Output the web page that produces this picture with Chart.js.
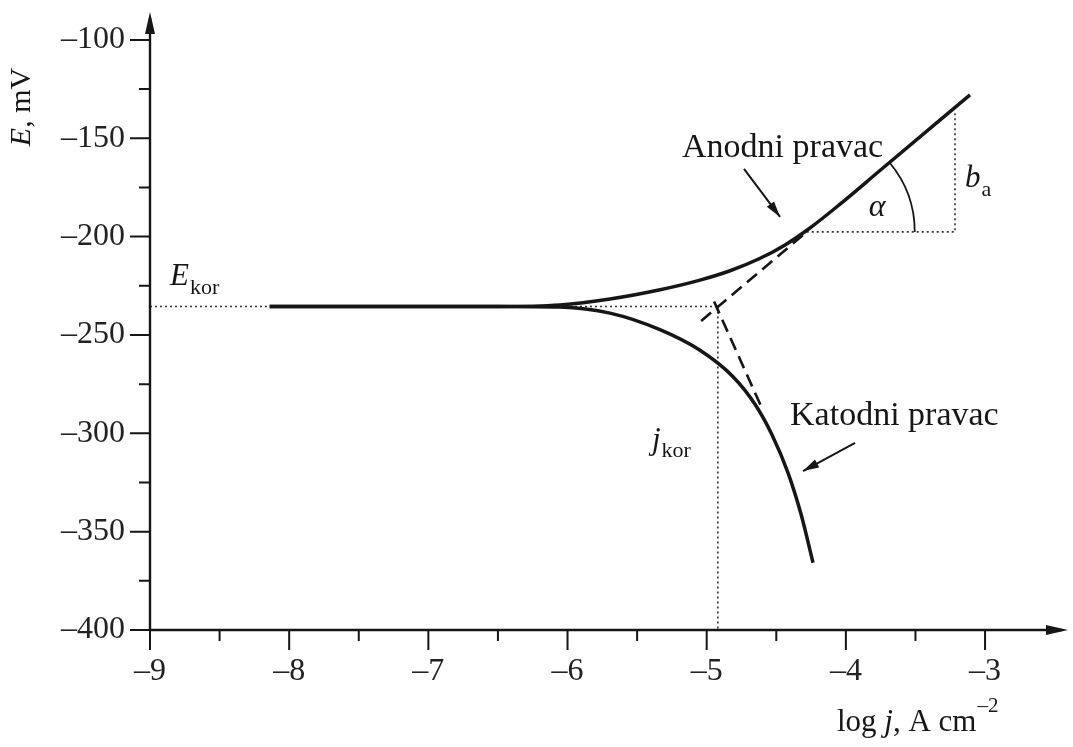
<!DOCTYPE html>
<html>
<head>
<meta charset="utf-8">
<script src="https://cdn.jsdelivr.net/npm/chart.js@4.4.0/dist/chart.umd.min.js"></script>
<style>
  html, body { margin: 0; background: #fff; }
  #wrap { width: 1073px; height: 747px; position: relative; }
</style>
</head>
<body>
<div id="wrap"><canvas id="polChart"></canvas></div>
<script>
// tick labels
const xTicks = [-9, -8, -7, -6, -5, -4, -3];
const xMinor = [-8.5, -7.5, -6.5, -5.5, -4.5, -3.5];
const yTicks = [-400, -350, -300, -250, -200, -150, -100];
const yMinor = [-375, -325, -275, -225, -175, -125];

// anodna krivulja (log j, E)
const anodicX = [-8.14, -6.5, -6.054, -5.695, -5.335, -5.048, -4.832, -4.627, -4.437, -4.258, -4.042, -3.755, -3.108];
const anodicE = [-235.5, -235.5, -234.7, -231.7, -227.0, -222.1, -217.35, -211.4, -204.2, -195.6, -183.5, -166.4, -127.9];

// katodna krivulja
const cathodicX = [-8.14, -6.5, -6.054, -5.695, -5.336, -5.048, -4.811, -4.653, -4.531, -4.415, -4.321, -4.236];
const cathodicE = [-235.5, -235.5, -235.8, -238.9, -247.3, -257.8, -271.2, -285.2, -300.7, -320.2, -341.4, -365.8];

// Tafelovi pravci (isprekidano)
const anodicTafelX = [-5.04, -4.308];
const anodicTafelE = [-242.9, -199.2];
const cathodicTafelX = [-4.947, -4.602];
const cathodicTafelE = [-233, -287.4];

// E_kor, j_kor, b_a
const eKor = -235.5;
const logJKor = -4.92;
const baBaseE = -197.6;
const baTopE = -136;
const baX = -3.216;

const serif = '"Liberation Serif", "Times New Roman", serif';
const ink = '#161616';

function pts(xs, ys) {
  return xs.map((x, i) => ({ x: x, y: ys[i] }));
}

// gdje anodni pravac sijece vodoravnu crtu b_a
const baStartX = anodicTafelX[0] + (baBaseE - anodicTafelE[0]) * (anodicTafelX[1] - anodicTafelX[0]) / (anodicTafelE[1] - anodicTafelE[0]);

const solid = { borderColor: ink, borderWidth: 3.5, pointRadius: 0, showLine: true, cubicInterpolationMode: 'monotone' };
const dashed = { borderColor: ink, borderWidth: 2.6, pointRadius: 0, showLine: true, borderDash: [13, 7] };
const dotted = { borderColor: '#333', borderWidth: 1.6, pointRadius: 0, showLine: true, borderDash: [2, 3] };

function arrowHead(ctx, x0, y0, x1, y1, len, half) {
  const a = Math.atan2(y1 - y0, x1 - x0);
  const c = Math.cos(a), s = Math.sin(a);
  ctx.beginPath();
  ctx.moveTo(x1, y1);
  ctx.lineTo(x1 - len * c + half * s, y1 - len * s - half * c);
  ctx.lineTo(x1 - len * c - half * s, y1 - len * s + half * c);
  ctx.closePath();
  ctx.fill();
}

function subText(ctx, main, sub, x, y, mainFont, subFont, dy) {
  ctx.font = mainFont;
  ctx.fillText(main, x, y);
  const w = ctx.measureText(main).width;
  ctx.font = subFont;
  ctx.fillText(sub, x + w + 1, y + dy);
}

const decor = {
  id: 'decor',
  afterDraw(chart) {
    const ctx = chart.ctx;
    const xs = chart.scales.x, ys = chart.scales.y;
    const area = chart.chartArea;
    const P = (x, y) => [xs.getPixelForValue(x), ys.getPixelForValue(y)];
    ctx.save();
    ctx.strokeStyle = ink;
    ctx.fillStyle = ink;

    // osi
    ctx.lineWidth = 2.4;
    ctx.beginPath();
    ctx.moveTo(area.left, area.bottom);
    ctx.lineTo(area.right - 6, area.bottom);
    ctx.moveTo(area.left, area.bottom);
    ctx.lineTo(area.left, area.top + 6);
    ctx.stroke();
    arrowHead(ctx, area.left, area.bottom, area.right, area.bottom, 22, 5);
    arrowHead(ctx, area.left, area.bottom, area.left, area.top, 22, 5);

    // crtice
    ctx.lineWidth = 2;
    ctx.beginPath();
    xTicks.forEach(v => { const p = xs.getPixelForValue(v); ctx.moveTo(p, area.bottom); ctx.lineTo(p, area.bottom + 20); });
    xMinor.forEach(v => { const p = xs.getPixelForValue(v); ctx.moveTo(p, area.bottom); ctx.lineTo(p, area.bottom + 11); });
    yTicks.forEach(v => { const p = ys.getPixelForValue(v); ctx.moveTo(area.left, p); ctx.lineTo(area.left - 20, p); });
    yMinor.forEach(v => { const p = ys.getPixelForValue(v); ctx.moveTo(area.left, p); ctx.lineTo(area.left - 11, p); });
    ctx.stroke();

    // naslov osi y
    ctx.save();
    ctx.translate(22, 107);
    ctx.rotate(-Math.PI / 2);
    ctx.textBaseline = 'middle';
    ctx.font = 'italic 30px ' + serif;
    const wE = ctx.measureText('E').width;
    ctx.font = '30px ' + serif;
    const wRest = ctx.measureText(', mV').width;
    const x0 = -(wE + wRest) / 2;
    ctx.font = 'italic 30px ' + serif;
    ctx.fillText('E', x0, 0);
    ctx.font = '30px ' + serif;
    ctx.fillText(', mV', x0 + wE, 0);
    ctx.restore();

    // naslov osi x
    ctx.textBaseline = 'alphabetic';
    ctx.font = '31px ' + serif;
    let tx = 837;
    ctx.fillText('log ', tx, 731); tx += ctx.measureText('log ').width;
    ctx.font = 'italic 31px ' + serif;
    ctx.fillText('j', tx, 731); tx += ctx.measureText('j').width;
    ctx.font = '31px ' + serif;
    ctx.fillText(', A cm', tx, 731); tx += ctx.measureText(', A cm').width;
    ctx.font = '21px ' + serif;
    ctx.fillText('\u20132', tx + 1, 712);

    // oznake
    let [ax, ay] = P(-8.856, -224.6);
    subText(ctx, 'E', 'kor', ax, ay, 'italic 31px ' + serif, '22px ' + serif, 9);
    [ax, ay] = P(-5.393, -308);
    subText(ctx, 'j', 'kor', ax, ay, 'italic 31px ' + serif, '22px ' + serif, 8);
    [ax, ay] = P(-3.144, -174.7);
    subText(ctx, 'b', 'a', ax, ay, 'italic 31px ' + serif, '22px ' + serif, 9);
    [ax, ay] = P(-3.776, -185.4);
    ctx.font = 'italic 32px ' + serif;
    ctx.textAlign = 'center';
    ctx.textBaseline = 'middle';
    ctx.fillText('\u03b1', ax, ay);
    ctx.textAlign = 'left';
    ctx.textBaseline = 'alphabetic';
    ctx.font = '34px ' + serif;
    [ax, ay] = P(-5.177, -159.5);
    ctx.fillText('Anodni pravac', ax, ay);
    [ax, ay] = P(-4.401, -295.8);
    ctx.fillText('Katodni pravac', ax, ay);

    // strelice
    ctx.lineWidth = 2;
    const arrows = [[-4.732, -165.6, -4.473, -190.0], [-3.934, -304.9, -4.308, -319.2]];
    arrows.forEach(a => {
      const [sx, sy] = P(a[0], a[1]);
      const [ex, ey] = P(a[2], a[3]);
      ctx.beginPath();
      ctx.moveTo(sx, sy);
      ctx.lineTo(ex, ey);
      ctx.stroke();
      arrowHead(ctx, sx, sy, ex, ey, 16, 4.5);
    });

    // luk kuta alfa
    const [l0x, l0y] = P(anodicTafelX[0], anodicTafelE[0]);
    const [l1x, l1y] = P(anodicTafelX[1], anodicTafelE[1]);
    const theta = Math.atan2(l0y - l1y, l1x - l0x);
    const [cx, cy] = P(baStartX, baBaseE);
    ctx.lineWidth = 1.8;
    ctx.beginPath();
    ctx.arc(cx, cy, 108, -theta, 0);
    ctx.stroke();

    ctx.restore();
  }
};

new Chart(document.getElementById('polChart'), {
  type: 'scatter',
  data: {
    datasets: [
      Object.assign({ data: pts(anodicX, anodicE) }, solid),
      Object.assign({ data: pts(cathodicX, cathodicE) }, solid),
      Object.assign({ data: pts(anodicTafelX, anodicTafelE) }, dashed),
      Object.assign({ data: pts(cathodicTafelX, cathodicTafelE) }, dashed),
      Object.assign({ data: [{ x: -9, y: eKor }, { x: logJKor, y: eKor }] }, dotted),
      Object.assign({ data: [{ x: logJKor, y: eKor }, { x: logJKor, y: -400 }] }, dotted),
      Object.assign({ data: [{ x: baStartX, y: baBaseE }, { x: baX, y: baBaseE }, { x: baX, y: baTopE }] }, dotted),
    ],
  },
  options: {
    responsive: true,
    maintainAspectRatio: false,
    animation: false,
    layout: { padding: { top: 12, right: 5, left: 0, bottom: 0 } },
    plugins: {
      legend: { display: false },
      tooltip: { enabled: false },
    },
    scales: {
      x: {
        type: 'linear',
        min: -9,
        max: -2.404,
        afterFit: s => { s.height = 117; s.paddingLeft = 0; s.paddingRight = 0; },
        afterBuildTicks: s => { s.ticks = xTicks.map(v => ({ value: v })); },
        grid: { display: false, drawTicks: false },
        border: { display: false },
        ticks: {
          padding: 22,
          color: '#222',
          font: { family: serif, size: 32 },
          callback: v => String(v).replace('-', '\u2013'),
        },
      },
      y: {
        type: 'linear',
        min: -400,
        max: -85.8,
        afterFit: s => { s.width = 150; s.paddingTop = 0; s.paddingBottom = 0; },
        afterBuildTicks: s => { s.ticks = yTicks.map(v => ({ value: v })); },
        grid: { display: false, drawTicks: false },
        border: { display: false },
        ticks: {
          padding: 25,
          color: '#222',
          font: { family: serif, size: 32 },
          callback: v => String(v).replace('-', '\u2013'),
        },
      },
    },
  },
  plugins: [decor],
});
</script>
</body>
</html>
